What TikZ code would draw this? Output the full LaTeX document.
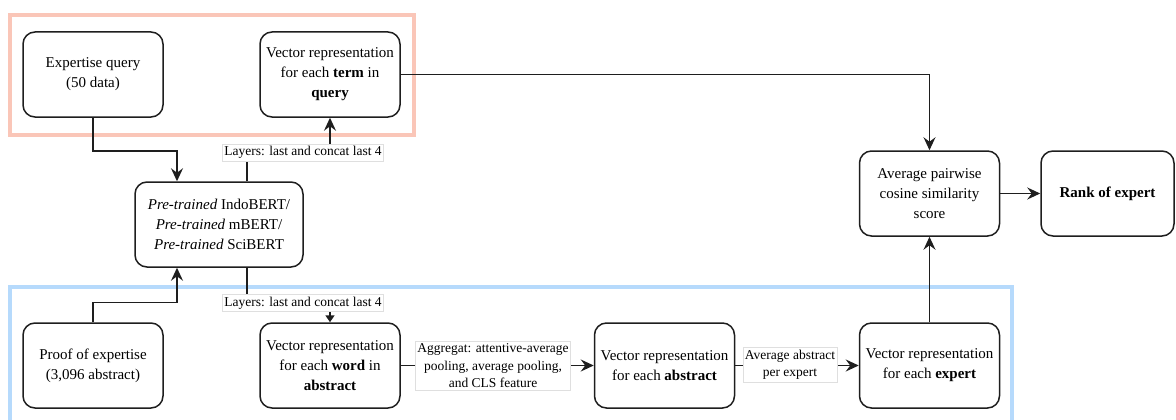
\documentclass[tikz,border=0pt]{standalone}
\usepackage{fontspec}
\setmainfont{Liberation Serif}
\usetikzlibrary{arrows.meta}
\definecolor{pinkframe}{RGB}{250,198,184}
\definecolor{blueframe}{RGB}{182,218,252}
\definecolor{ink}{RGB}{30,30,30}
\begin{document}
\begin{tikzpicture}[x=1pt,y=-1pt,
  box/.style={draw=ink, line width=1.5pt, rounded corners=12pt, fill=white,
    minimum width=140pt, minimum height=85pt, align=center, inner sep=2pt,
    font=\rmfamily\fontsize{15}{20}\selectfont},
  lbl/.style={draw=gray!25, line width=0.6pt, fill=white, align=center,
    inner xsep=2pt, inner ysep=2.5pt, font=\rmfamily\fontsize{13.5}{17.5}\selectfont},
  conn/.style={draw=ink, line width=1.5pt},
  arr/.style={conn, -{Stealth[length=13pt,width=12pt,inset=4.5pt]}},
  smallarr/.style={conn, -{Triangle[length=7pt,width=9pt]}},
]
\useasboundingbox (0,0) rectangle (1176,420);
% group frames
\draw[pinkframe, line width=4.5pt] (10,15) rectangle (414,135);
\draw[blueframe, line width=4.5pt] (10,440) -- (10,287) -- (1012,287) -- (1012,440);
% nodes
\node[box] (q) at (93,74.5) {Expertise query\\(50 data)};
\node[box] (t) at (330,74.5) {Vector representation\\for each \textbf{term} in\\\textbf{query}};
\node[box, minimum width=168pt] (pre) at (219,224.5) {\textit{Pre-trained} IndoBERT/\\\textit{Pre-trained} mBERT/\\\textit{Pre-trained} SciBERT};
\node[box] (p) at (93,365.5) {Proof of expertise\\(3,096 abstract)};
\node[box] (w) at (330,365.5) {Vector representation\\for each \textbf{word} in\\\textbf{abstract}};
\node[box] (a) at (664.5,365.5) {Vector representation\\for each \textbf{abstract}};
\node[box] (e) at (929.5,365.5) {Vector representation\\for each \textbf{expert}};
\node[box] (avg) at (929.5,193.5) {Average pairwise\\cosine similarity\\score};
\node[box, minimum width=133pt] (r) at (1107.5,193.5) {\textbf{Rank of expert}};
% connectors
\draw[arr] (q.south) -- ++(0,33) -| ([xshift=-42pt]pre.north);
\draw[arr] (p.north) -- ++(0,-20) -| ([xshift=-42pt]pre.south);
\draw[arr] ([xshift=28pt]pre.north) -- ++(0,-30) -| (t.south);
\draw[smallarr] ([xshift=28pt]pre.south) -- ++(0,36) -| (w.north);
\draw[arr] (w.east) -- (a.west);
\draw[arr] (a.east) -- (e.west);
\draw[arr] (e.north) -- (avg.south);
\draw[arr] (t.east) -| (avg.north);
\draw[arr] (avg.east) -- (r.west);
% edge labels
\node[lbl] (l1) at (303,152.5) {Layers: last and concat last 4};
\node[lbl] (l2) at (303,303) {Layers: last and concat last 4};
\node[lbl] (l3) at (493,366) {Aggregat: attentive-average\\pooling, average pooling,\\and CLS feature};
\node[lbl] (l4) at (790,365) {Average abstract\\per expert};
\end{tikzpicture}
\end{document}
